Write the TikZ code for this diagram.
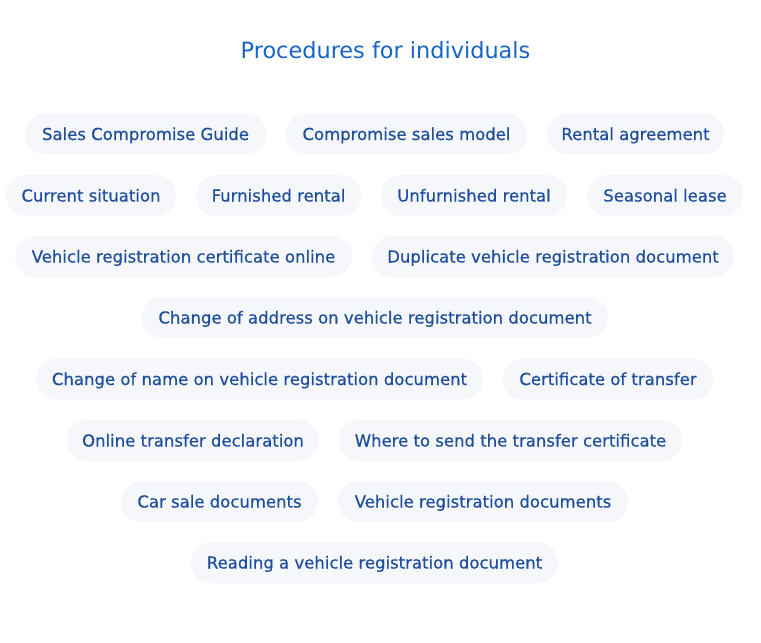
\documentclass[tikz,border=0pt]{standalone}
\usepackage{fontspec}
\setmainfont{DejaVu Sans}
\newfontfamily\pillfont[FakeBold=0.5]{DejaVu Sans}
\usetikzlibrary{positioning}
\definecolor{titleblue}{HTML}{1666C5}
\definecolor{pilltext}{HTML}{1E4E9C}
\definecolor{pillfill}{HTML}{F5F7FB}
\tikzset{
  pill/.style={fill=pillfill, draw=none, rounded corners=20.5pt, minimum height=41pt,
    text=pilltext, font=\pillfont\fontsize{16.5pt}{18pt}\selectfont, inner sep=0pt,
    text height=12pt, text depth=0pt, anchor=center},
  titlestyle/.style={text=titleblue, font=\fontsize{22.4pt}{26pt}\selectfont, inner sep=0pt,
    text height=16.3pt, text depth=0pt}
}
\newcommand{\pillat}[5]{% name, left, right, ycenter, text
  \node[pill, minimum width={#3pt-#2pt}] (#1) at ({(#2pt+#3pt)/2}, -#4pt) {#5};}
\begin{document}
\begin{tikzpicture}[x=1pt,y=1pt]
\useasboundingbox (0,0) rectangle (761,-643);
\fill[white] (0,0) rectangle (761,-643);
\node[titlestyle] (title) at (385.5,-50) {Procedures for individuals};
\pillat{p1}{25}{266}{134}{Sales Compromise Guide}
\pillat{p2}{286}{527}{134}{Compromise sales model}
\pillat{p3}{547}{724}{134}{Rental agreement}
\pillat{p4}{6}{176}{195.5}{Current situation}
\pillat{p5}{196}{361}{195.5}{Furnished rental}
\pillat{p6}{381}{567}{195.5}{Unfurnished rental}
\pillat{p7}{587}{743}{195.5}{Seasonal lease}
\pillat{p8}{15}{352}{256.5}{Vehicle registration certificate online}
\pillat{p9}{372}{734}{256.5}{Duplicate vehicle registration document}
\pillat{p10}{142}{608}{317.5}{Change of address on vehicle registration document}
\pillat{p11}{36}{483}{379}{Change of name on vehicle registration document}
\pillat{p12}{503}{713}{379}{Certificate of transfer}
\pillat{p13}{67}{319}{440.5}{Online transfer declaration}
\pillat{p14}{339}{682}{440.5}{Where to send the transfer certificate}
\pillat{p15}{121}{318}{501.5}{Car sale documents}
\pillat{p16}{338}{628}{501.5}{Vehicle registration documents}
\pillat{p17}{191}{558}{562.5}{Reading a vehicle registration document}
\end{tikzpicture}
\end{document}
